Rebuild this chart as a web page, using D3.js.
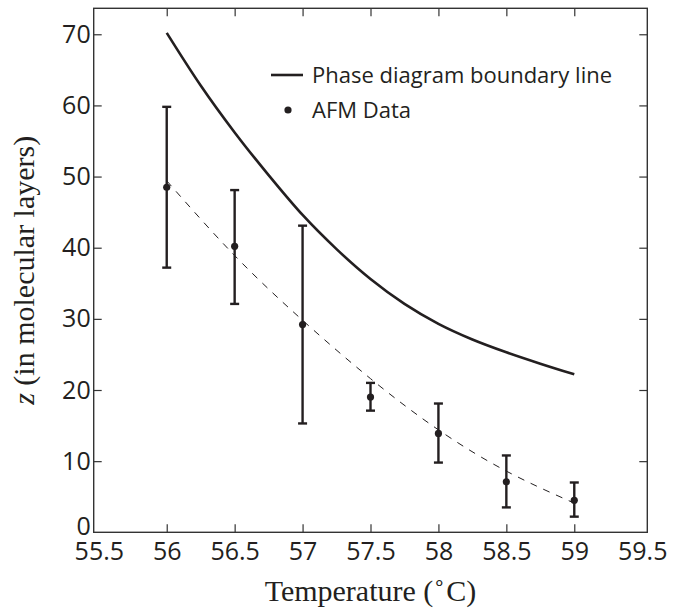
<!DOCTYPE html>
<html>
<head>
<meta charset="utf-8">
<script src="https://cdn.jsdelivr.net/npm/d3@7"></script>
<style>
  html, body { margin: 0; padding: 0; background: #fff; }
  svg { display: block; }
</style>
</head>
<body>
<svg id="chart" width="682" height="612"></svg>
<script>
// ---- data ----
const xTicks = [55.5, 56, 56.5, 57, 57.5, 58, 58.5, 59, 59.5];
const yTicks = [0, 10, 20, 30, 40, 50, 60, 70];

const phaseT = [56, 56.25, 56.5, 56.75, 57, 57.25, 57.5, 57.75, 58, 58.25, 58.5, 58.75, 59];
const phaseZ = [70.2, 62.8, 56.2, 50.2, 44.6, 39.8, 35.6, 32.1, 29.3, 27.1, 25.3, 23.7, 22.2];

const afmT    = [56, 56.5, 57, 57.5, 58, 58.5, 59];
const afmZ    = [48.5, 40.2, 29.2, 19.0, 13.9, 7.1, 4.5];
const afmLow  = [37.2, 32.1, 15.3, 17.1, 9.8, 3.5, 2.2];
const afmHigh = [59.8, 48.1, 43.1, 21.0, 18.1, 10.8, 7.0];

const fitT = [56, 56.5, 57, 57.5, 58, 58.5, 59];
const fitZ = [49.4, 38.9, 29.8, 21.6, 14.4, 8.6, 4.1];

const legendLabels = ["Phase diagram boundary line", "AFM Data"];

// ---- layout ----
const svg = d3.select("#chart");
const frame = {left: 93.7, right: 647.3, top: 8.3, bottom: 532.3};
const x = d3.scaleLinear().domain([55.5, 59.5]).range([98.8, 642.2]);
const y = d3.scaleLinear().domain([0, 73.65]).range([frame.bottom, frame.top]);
const ink = "#231f20";

// axes (ticks drawn inward)
const tickFont = "'Open Sans', sans-serif";
const gx = svg.append("g").attr("transform", `translate(0,${frame.bottom})`)
  .call(d3.axisBottom(x).tickValues(xTicks).tickSize(-8).tickPadding(10).tickFormat(d => d3.format("")(d)));
const gxTop = svg.append("g").attr("transform", `translate(0,${frame.top})`)
  .call(d3.axisTop(x).tickValues(xTicks).tickSize(-8).tickFormat(""));
const gy = svg.append("g").attr("transform", `translate(${frame.left},0)`)
  .call(d3.axisLeft(y).tickValues(yTicks).tickSize(-8).tickPadding(3));
const gyR = svg.append("g").attr("transform", `translate(${frame.right},0)`)
  .call(d3.axisRight(y).tickValues(yTicks).tickSize(-8).tickFormat(""));

[gx, gxTop, gy, gyR].forEach(g => {
  g.select(".domain").remove();
  g.selectAll(".tick line").attr("stroke", "#333").attr("stroke-width", 1.2);
  g.selectAll(".tick text").attr("font-family", tickFont).attr("font-size", 25).attr("fill", ink);
});
// remove the edge ticks that would coincide with frame sides
gx.selectAll(".tick").filter(d => d === 55.5 || d === 59.5).select("line").remove();
gxTop.selectAll(".tick").filter(d => d === 55.5 || d === 59.5).select("line").remove();
gy.selectAll(".tick").filter(d => d === 0).select("line").remove();
gyR.selectAll(".tick").filter(d => d === 0).select("line").remove();
gy.selectAll(".tick").filter(d => d === 0).select("text").attr("dy", "0.1em");

// frame
svg.append("rect")
  .attr("x", frame.left).attr("y", frame.top)
  .attr("width", frame.right - frame.left).attr("height", frame.bottom - frame.top)
  .attr("fill", "none").attr("stroke", "#333").attr("stroke-width", 1.4);

// fitted dashed curve
const fitData = fitT.map((t, i) => [t, fitZ[i]]);
svg.append("path")
  .attr("d", d3.line().x(d => x(d[0])).y(d => y(d[1])).curve(d3.curveNatural)(fitData))
  .attr("fill", "none").attr("stroke", ink).attr("stroke-width", 1)
  .attr("stroke-dasharray", "7,7");

// phase diagram boundary line
const phaseData = phaseT.map((t, i) => [t, phaseZ[i]]);
svg.append("path")
  .attr("d", d3.line().x(d => x(d[0])).y(d => y(d[1])).curve(d3.curveMonotoneX)(phaseData))
  .attr("fill", "none").attr("stroke", ink).attr("stroke-width", 2.6);

// error bars
const afm = afmT.map((t, i) => ({t, z: afmZ[i], lo: afmLow[i], hi: afmHigh[i]}));
const capW = 4.5;
const eb = svg.append("g").attr("stroke", ink).attr("stroke-width", 2.4);
eb.selectAll("line.v").data(afm).join("line")
  .attr("x1", d => x(d.t)).attr("x2", d => x(d.t))
  .attr("y1", d => y(d.lo)).attr("y2", d => y(d.hi));
eb.selectAll("line.lo").data(afm).join("line")
  .attr("x1", d => x(d.t) - capW).attr("x2", d => x(d.t) + capW)
  .attr("y1", d => y(d.lo)).attr("y2", d => y(d.lo));
eb.selectAll("line.hi").data(afm).join("line")
  .attr("x1", d => x(d.t) - capW).attr("x2", d => x(d.t) + capW)
  .attr("y1", d => y(d.hi)).attr("y2", d => y(d.hi));
svg.append("g").selectAll("circle").data(afm).join("circle")
  .attr("cx", d => x(d.t)).attr("cy", d => y(d.z)).attr("r", 3.6).attr("fill", ink);

// legend
const lg = svg.append("g").attr("font-family", tickFont).attr("font-size", 22).attr("fill", ink);
lg.append("line").attr("x1", 271).attr("x2", 303).attr("y1", 75).attr("y2", 75)
  .attr("stroke", ink).attr("stroke-width", 2.6);
lg.append("circle").attr("cx", 288).attr("cy", 110).attr("r", 3.6).attr("fill", ink);
lg.selectAll("text").data(legendLabels).join("text")
  .attr("x", 312).attr("y", (d, i) => 75 + i * 35).attr("dy", "0.35em").text(d => d);

// axis titles
const serif = "'Liberation Serif', 'Times New Roman', serif";
const xt = svg.append("text").attr("x", 370.5).attr("y", 601).attr("text-anchor", "middle")
  .attr("font-family", serif).attr("font-size", 30).attr("fill", ink);
xt.append("tspan").text("Temperature (");
xt.append("tspan").attr("font-size", 20).attr("dy", -11).text("\u2218");
xt.append("tspan").attr("dy", 11).text("C)");

const yt = svg.append("text")
  .attr("transform", `translate(34,${(frame.top + frame.bottom) / 2}) rotate(-90)`)
  .attr("text-anchor", "middle").attr("font-family", serif).attr("font-size", 30).attr("fill", ink);
yt.append("tspan").attr("font-style", "italic").text("z");
yt.append("tspan").text(" (in molecular layers)");
</script>
</body>
</html>
